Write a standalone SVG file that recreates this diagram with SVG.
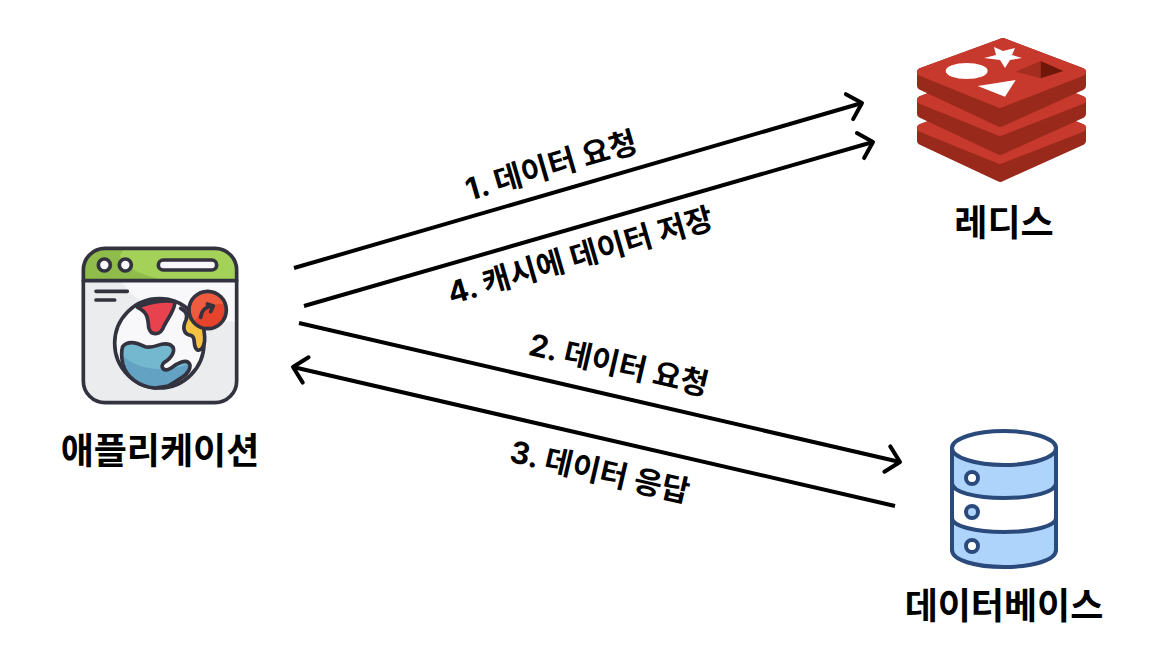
<svg xmlns="http://www.w3.org/2000/svg" width="1168" height="662" viewBox="0 0 1168 662">
<style>
text{font-family:"Inter","Noto Sans CJK KR",sans-serif;font-weight:700;fill:#000;text-anchor:middle;dominant-baseline:central}
.t{font-size:36px}.l{font-size:30.500px}
.c{fill:none;stroke:#000;stroke-width:4;marker-end:url(#a)}
.o{stroke:#33323f;stroke-width:11;stroke-linejoin:round;stroke-linecap:round}
.top{fill:#c6392c;stroke:#c6392c;stroke-width:8;stroke-linejoin:round}
.side{fill:#98291b;stroke:#98291b;stroke-width:8;stroke-linejoin:round}
.d{stroke:#2a4a7b;stroke-width:4;stroke-linejoin:round}
</style>
<defs>
<marker id="a" markerUnits="userSpaceOnUse" markerWidth="40" markerHeight="40" refX="20" refY="20" orient="auto" overflow="visible">
<path d="M7 7L20 20L7 33" fill="none" stroke="#000" stroke-width="4" stroke-linecap="round" stroke-linejoin="round"/>
</marker>
<clipPath id="cb"><path d="M188 350C205 328 235 340 255 350C290 358 300 332 332 345C352 358 335 385 312 398C298 410 312 428 332 415C350 400 382 382 390 405C392 435 350 450 325 468L285 474C235 470 198 440 188 400C184 380 184 362 188 350Z"/></clipPath>
<clipPath id="cr"><circle cx="443" cy="240" r="56"/></clipPath>
</defs>
<rect width="1168" height="662" fill="#fff"/>
<g id="connectors">
<line class="c" x1="294" y1="268" x2="862" y2="103"/>
<line class="c" x1="304" y1="306" x2="873" y2="142"/>
<line class="c" x1="299" y1="323" x2="900" y2="462"/>
<line class="c" x1="895" y1="506" x2="293" y2="367"/>
<text class="l" transform="translate(551 165) rotate(-16.200)">1. 데이터 요청</text>
<text class="l" transform="translate(580 255) rotate(-16.200)">4. 캐시에 데이터 저장</text>
<text class="l" transform="translate(619 364) rotate(13)">2. 데이터 요청</text>
<text class="l" transform="translate(600 471) rotate(13)">3. 데이터 응답</text>
</g>
<g id="app">
<g transform="translate(60 230) scale(.33333)">
<rect x="70" y="55" width="460" height="463" rx="65" fill="#ebecee"/>
<path d="M70 152H530V275C400 270 240 250 185 155Z" fill="#f8f8fb"/>
<path d="M70 152V120A65 65 0 0 1 135 55H465A65 65 0 0 1 530 120V152Z" fill="#8fbc4a"/>
<path d="M190 60H465Q520 62 526 118V148H300Q190 120 180 75Z" fill="#a4d158"/>
<rect x="70" y="55" width="460" height="463" rx="65" fill="none" class="o"/>
<path d="M70 152H530M108 184H202M108 210H164" fill="none" class="o"/>
<circle cx="133" cy="105" r="18" fill="#f8f8fb" class="o"/>
<circle cx="196" cy="105" r="18" fill="#f8f8fb" class="o"/>
<rect x="295" y="90" width="175" height="30" rx="15" fill="#f8f8fb" class="o"/>
<circle cx="298" cy="340" r="134" fill="#f8f8fb" class="o"/>
<path d="M232 232C260 218 310 208 345 215C345 240 325 262 312 288C302 318 272 318 266 292C264 265 262 245 232 232Z" fill="#e8424f" class="o"/>
<path d="M362 235C375 240 385 255 378 270C368 290 368 312 392 316C410 320 396 350 412 360C428 364 436 340 434 320L430 285Z" fill="#f5c242" class="o"/>
<path d="M188 350C205 328 235 340 255 350C290 358 300 332 332 345C352 358 335 385 312 398C298 410 312 428 332 415C350 400 382 382 390 405C392 435 350 450 325 468L285 474C235 470 198 440 188 400C184 380 184 362 188 350Z" fill="#74b8d0"/>
<path d="M180 370C230 420 300 430 400 400V480H180Z" fill="#64a2c4" clip-path="url(#cb)"/>
<path d="M188 350C205 328 235 340 255 350C290 358 300 332 332 345C352 358 335 385 312 398C298 410 312 428 332 415C350 400 382 382 390 405C392 435 350 450 325 468L285 474C235 470 198 440 188 400C184 380 184 362 188 350Z" fill="none" class="o"/>
<circle cx="443" cy="240" r="56" fill="#e5432b"/>
<path d="M385 240A58 58 0 0 1 500 225C470 215 420 230 400 285Q385 265 385 240Z" fill="#ee5b3f" clip-path="url(#cr)"/>
<circle cx="443" cy="240" r="56" fill="none" class="o"/>
<path d="M422 262C425 240 435 230 458 228M442 222L460 228L452 245" fill="none" class="o"/>
</g>
<text class="t" x="160" y="451">애플리케이션</text>
</g>
<g id="redis">
<polygon class="side" points="921,128 1003,97 1082,128 1082,141 1000,178 921,141"/>
<polygon class="top" points="921,128 1003,97 1082,128 1000,160"/>
<polygon class="side" points="921,100 1003,69 1082,100 1082,114 1000,151 921,114"/>
<polygon class="top" points="921,100 1003,69 1082,100 1000,132"/>
<polygon class="side" points="921,72 1003,42 1082,72 1082,86 1000,123 921,86"/>
<polygon class="top" points="921,72 1003,42 1082,72 1000,104"/>
<polygon points="994,47 1003,51 1015,48 1012,55 1022,58 1010,60 1005,68 1000,60 984,58 996,55" fill="#fff"/>
<ellipse cx="966.700" cy="71" rx="21" ry="8" fill="#fff"/>
<polygon points="977.700,86 1015.700,80 1005,96.700" fill="#fff"/>
<polygon points="1015.700,71.700 1040.700,61 1040.700,78.300" fill="#a32e1f"/>
<polygon points="1040.700,61 1063.300,71 1040.700,78.300" fill="#6f1709"/>
<text class="t" x="1004" y="223">레디스</text>
</g>
<g id="database">
<path class="d" d="M952 448V550C952 560 975 567 1004 567C1033 567 1056 560 1056 550V448Z" fill="#aed4fb"/>
<path class="d" d="M952 483C952 492 975 498 1004 498C1033 498 1056 492 1056 483V518C1056 526 1033 532 1004 532C975 532 952 526 952 518Z" fill="#fff"/>
<ellipse class="d" cx="1004" cy="448" rx="52" ry="17" fill="#fff"/>
<circle class="d" cx="972" cy="478" r="6" fill="#fff"/>
<circle class="d" cx="972" cy="512" r="6" fill="#aed4fb"/>
<circle class="d" cx="972" cy="546" r="6" fill="#fff"/>
<text class="t" x="1004" y="606">데이터베이스</text>
</g>
</svg>
